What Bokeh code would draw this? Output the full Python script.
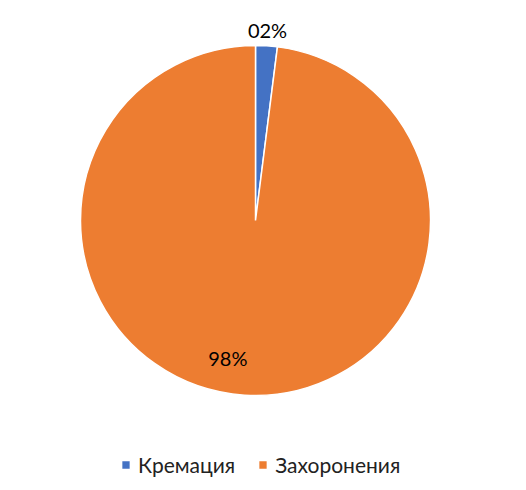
import math
from bokeh.plotting import figure
from bokeh.models import Range1d, ColumnDataSource, Legend, LegendItem, LabelSet
from bokeh.core.properties import value
from bokeh.embed import file_html
from bokeh.resources import INLINE

categories = ["Кремация", "Захоронения"]
values = [2, 98]
labels = ["02%", "98%"]
colors = ["#4472C4", "#ED7D31"]

W, H = 510, 480
cx_px, cy_px = 255, 220  # pie centre in frame pixels from top-left
R = 175

p = figure(width=W, height=H, output_backend="svg", toolbar_location=None,
           x_range=Range1d(-cx_px, W - cx_px), y_range=Range1d(-(H - cy_px), cy_px),
           min_border=0, outline_line_color=None)
p.axis.visible = False
p.grid.visible = False

total = sum(values)
starts, ends, lx, ly = [], [], [], []
label_r = [R + 16, R * 0.79]
label_shift = [0, -19]
cum = 0
for i, v in enumerate(values):
    a0 = math.pi / 2 - 2 * math.pi * cum / total
    cum += v
    a1 = math.pi / 2 - 2 * math.pi * cum / total
    starts.append(a0)
    ends.append(a1)
    mid = (a0 + a1) / 2
    lx.append(label_r[i] * math.cos(mid) + label_shift[i])
    ly.append(label_r[i] * math.sin(mid))

src = ColumnDataSource(dict(lx=lx, ly=ly, lab=labels))

renderers = []
for i in range(len(values)):
    r = p.wedge(x=0, y=0, radius=R, radius_units="screen", start_angle=starts[i], end_angle=ends[i],
                direction="clock", fill_color=colors[i], line_color="white", line_width=1.5)
    renderers.append(r)

p.add_layout(LabelSet(x="lx", y="ly", text="lab", source=src, text_align="center",
                      text_baseline="middle", text_font=value("Lato"), text_font_size="20px",
                      text_color="#000000"))

legend = Legend(items=[LegendItem(label=categories[i], renderers=[renderers[i]]) for i in range(len(values))],
                orientation="horizontal", location=(120, 3), label_text_font="Lato",
                label_text_font_size="21px", label_text_color="#222222",
                glyph_width=11, glyph_height=11, label_standoff=7, spacing=22,
                padding=0, margin=0, border_line_color=None, background_fill_alpha=0)
p.add_layout(legend)

open("out.html", "w").write(file_html(p, INLINE))
